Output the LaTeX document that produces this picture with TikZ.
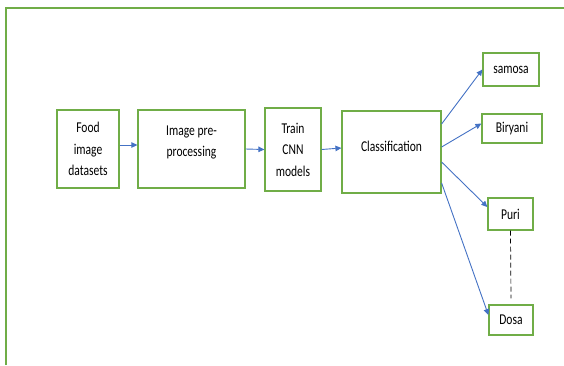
\documentclass[tikz,border=0pt]{standalone}
\usepackage{fontspec}
\setmainfont[FakeStretch=0.77]{Carlito}
\usetikzlibrary{arrows.meta}

\definecolor{boxgreen}{RGB}{112,173,71}
\definecolor{arrowblue}{RGB}{68,114,196}

\tikzset{
	box/.style={draw=boxgreen, line width=1.2pt, inner sep=0pt, align=center},
	flow/.style={draw=arrowblue, line width=0.9pt, -{Triangle[length=6pt,width=5.5pt]}},
}

\begin{document}
\begin{tikzpicture}[x=1pt, y=-1pt, font=\fontsize{15}{21.5}\selectfont]
	\useasboundingbox (0, 0) rectangle (564, 365);

	\draw[boxgreen, line width=1.5pt] (6, 365) -- (6, 8) -- (564, 8);

	\node[box, minimum width=62pt, minimum height=78pt] (food) at (88, 149) {Food\\image\\datasets};
	\node[box, minimum width=107pt, minimum height=78pt, text depth=16pt] (prep) at (191.5, 149) {Image pre-\\processing};
	\node[box, minimum width=56pt, minimum height=83pt] (train) at (293, 149.5) {Train\\CNN\\models};
	\node[box, minimum width=99pt, minimum height=82pt, text depth=12pt] (cls) at (391.5, 152) {Classification};

	\node[box, minimum width=56pt, minimum height=33pt] (samosa) at (511, 69.5) {samosa};
	\node[box, minimum width=60pt, minimum height=29pt] (biryani) at (512, 128.5) {Biryani};
	\node[box, minimum width=45pt, minimum height=32pt] (puri) at (510.5, 214) {Puri};
	\node[box, minimum width=44pt, minimum height=30pt] (dosa) at (511, 320) {Dosa};

	\draw[flow] ([yshift=4pt]food.east) -- ([yshift=4pt]prep.west);
	\draw[flow] (prep.east) -- (train.west);
	\draw[flow] (train.east) -- ([yshift=4pt]cls.west);

	\draw[flow] ([yshift=28pt]cls.east) -- (samosa.west);
	\draw[flow] ([yshift=5pt]cls.east) -- ([yshift=5pt]biryani.west);
	\draw[flow] ([yshift=-10pt]cls.east) -- ([yshift=7pt]puri.west);
	\draw[flow] ([yshift=-31pt]cls.east) -- ([yshift=5pt]dosa.west);

	\draw[dashed, dash pattern=on 5pt off 3pt, line width=0.7pt] (puri.south) -- ([yshift=6pt]dosa.north);
\end{tikzpicture}
\end{document}
